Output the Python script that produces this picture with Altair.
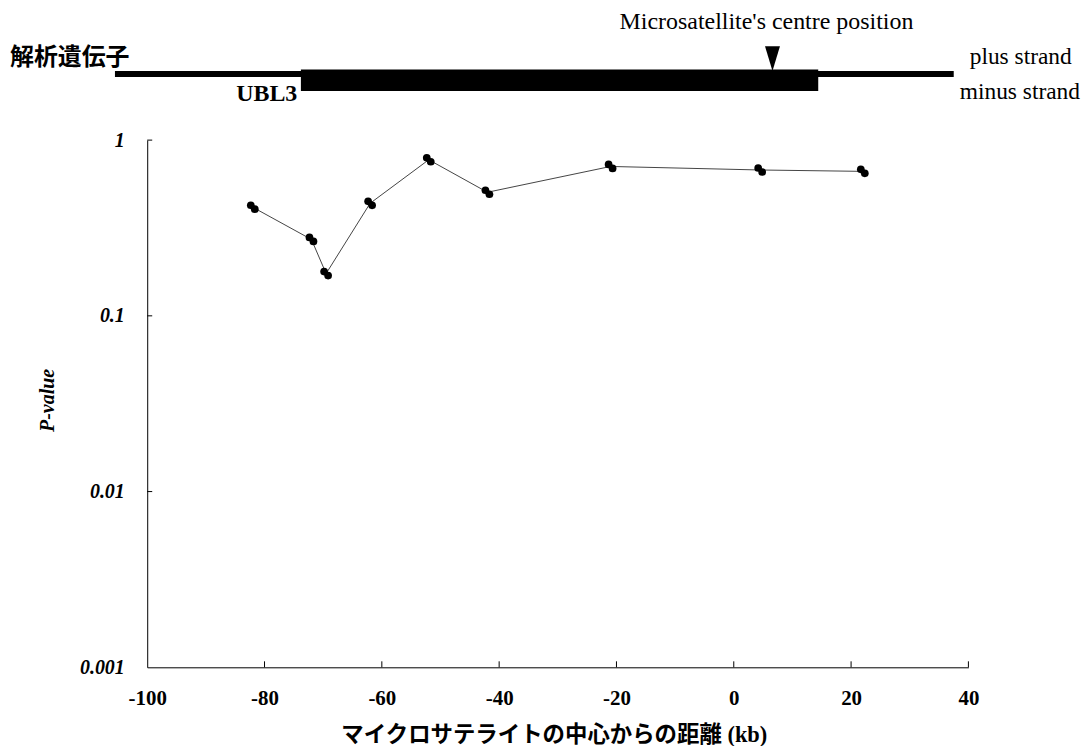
import altair as alt
import pandas as pd

# ---- data ----
POS_KB = [-82, -72, -69.5, -62, -52, -42, -21, 4.5, 22]
P_VALUES = [0.415, 0.272, 0.174, 0.437, 0.773, 0.505, 0.708, 0.676, 0.664]
X_TICKS = [-100, -80, -60, -40, -20, 0, 20, 40]
Y_TICKS = [0.001, 0.01, 0.1, 1]

TRACK_KB = [-105.5, 37.5]      # analysed region (plus strand line)
GENE_KB = [-73.8, 14.4]        # UBL3 (minus strand)
MS_CENTRE_KB = [6.6]           # microsatellite centre marker

W, H = 824, 529
SERIF = "Liberation Serif, Times New Roman, serif"
CJK = "Liberation Serif, Noto Sans CJK JP, sans-serif"

xs = alt.Scale(domain=[-100, 40], nice=False, zero=False)
ys = alt.Scale(type="log", domain=[0.001, 1], nice=False)

xaxis = alt.Axis(
    values=X_TICKS, labelExpr="'' + datum.value", ticks=False, tickSize=0,
    domainColor="black", domainWidth=1, grid=False,
    labelFont=SERIF, labelFontSize=21, labelFontWeight="bold", labelColor="black",
    labelPadding=31.5, labelBaseline="middle", labelFlush=False, labelOverlap=False,
    title="マイクロサテライトの中心からの距離 (kb)", titleFont=CJK, titleFontSize=22.5,
    titleFontWeight="bold", titleColor="black", titleX=408, titleY=67.5,
    titleBaseline="middle",
)
yaxis = alt.Axis(
    values=Y_TICKS, labelExpr="'' + datum.value", ticks=False, tickSize=0,
    domainColor="black", domainWidth=1, grid=False,
    labelFont=SERIF, labelFontSize=20, labelFontWeight="bold", labelFontStyle="italic",
    labelColor="black", labelPadding=23, labelBaseline="middle", labelAlign="right",
    labelOverlap=False, labelFlush=False,
    title="P-value", titleFont=SERIF, titleFontSize=20, titleFontWeight="bold",
    titleFontStyle="italic", titleColor="black", titleAngle=270,
    titleX=-99.7, titleY=260.7, titleBaseline="middle",
)

X = lambda f="pos": alt.X(f"{f}:Q", scale=xs, axis=xaxis)
Y = lambda f="p": alt.Y(f"{f}:Q", scale=ys, axis=yaxis)

df = pd.DataFrame({"pos": POS_KB, "p": P_VALUES})

line = alt.Chart(df).mark_line(color="#444444", strokeWidth=1).encode(x=X(), y=Y())
pts_a = alt.Chart(df).mark_circle(color="black", size=60, opacity=1, xOffset=-2, yOffset=-2).encode(x=X(), y=Y())
pts_b = alt.Chart(df).mark_circle(color="black", size=60, opacity=1, xOffset=2, yOffset=2).encode(x=X(), y=Y())

# inward-pointing ticks
xt = alt.Chart(pd.DataFrame({"pos": X_TICKS[1:]})).mark_rule(color="black", strokeWidth=1).encode(
    x=X(), y=alt.value(H), y2=alt.value(H - 6))
yt = alt.Chart(pd.DataFrame({"p": Y_TICKS[1:]})).mark_rule(color="black", strokeWidth=1).encode(
    y=Y(), x=alt.value(0), x2=alt.value(5))

# gene diagram
track = alt.Chart(pd.DataFrame({"pos": [TRACK_KB[0]], "pos_end": [TRACK_KB[1]]})).mark_rule(
    color="black", strokeWidth=6, strokeCap="butt").encode(x=X(), x2="pos_end:Q", y=alt.value(-66.3))
gene = alt.Chart(pd.DataFrame({"pos": [GENE_KB[0]], "pos_end": [GENE_KB[1]]})).mark_rect(
    color="black").encode(x=X(), x2="pos_end:Q", y=alt.value(-70.8), y2=alt.value(-49.3))
tri = alt.Chart(pd.DataFrame({"pos": MS_CENTRE_KB})).mark_point(
    shape="M-0.6,-1L0.6,-1L0,1Z", filled=True, size=625, color="black", opacity=1).encode(
    x=X(), y=alt.value(-81.8))

one = pd.DataFrame({"a": [0]})

def label(text, x, y, font, size, weight="normal", baseline="alphabetic"):
    return alt.Chart(one).mark_text(
        text=text, font=font, fontSize=size, fontWeight=weight, color="black",
        align="left", baseline=baseline).encode(x=alt.value(x), y=alt.value(y))

texts = [
    label("解析遺伝子", -137.7, -82.3, CJK, 24, "bold", "middle"),
    label("UBL3", 89.3, -45.8, SERIF, 24, "bold", "middle"),
    label("Microsatellite's centre position", 474, -111, SERIF, 24),
    label("plus strand", 825.3, -76, SERIF, 23.5),
    label("minus strand", 815.3, -41.3, SERIF, 23.5),
]

chart = alt.layer(track, gene, tri, line, pts_a, pts_b, xt, yt, *texts).properties(
    width=W, height=H,
    padding={"left": 139.7, "top": 131.3, "right": 114, "bottom": 78},
    autosize=alt.AutoSizeParams(type="none"),
    background="white",
).configure_view(stroke=None)

chart.save("out.html", embed_options={"renderer": "svg", "actions": False})
